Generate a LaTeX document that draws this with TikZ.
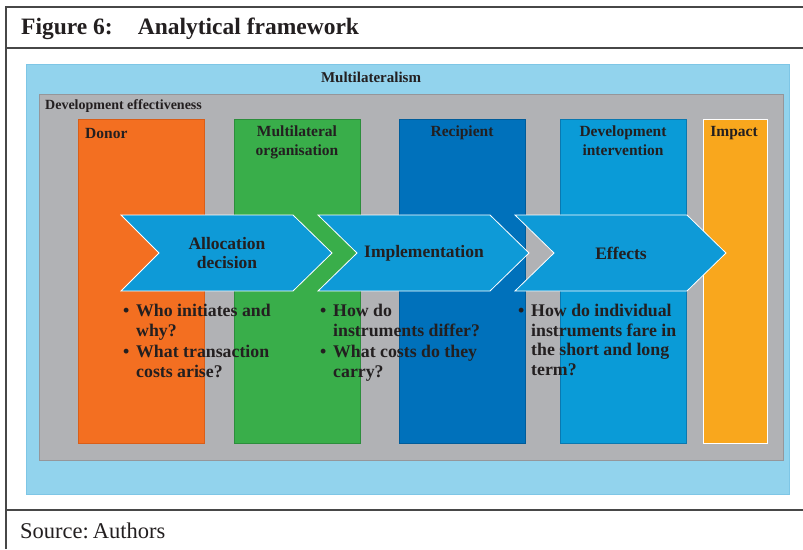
\documentclass[tikz,border=0pt]{standalone}
\usepackage{fontspec}
\setmainfont{Liberation Serif}
\definecolor{skyb}{HTML}{92D3ED}
\definecolor{skybd}{HTML}{7EC6E6}
\definecolor{grayb}{HTML}{B1B2B5}
\definecolor{graybd}{HTML}{95969A}
\definecolor{orangeb}{HTML}{F36F21}
\definecolor{orangebd}{HTML}{D95E18}
\definecolor{greenb}{HTML}{39AE4A}
\definecolor{greenbd}{HTML}{2C8E3C}
\definecolor{recipb}{HTML}{0071BB}
\definecolor{recipbd}{HTML}{005C9A}
\definecolor{devb}{HTML}{0A9BD7}
\definecolor{devbd}{HTML}{0A78B0}
\definecolor{impb}{HTML}{F9A71D}
\definecolor{chevb}{HTML}{0E9AD7}
\definecolor{txt}{HTML}{231F20}
\newcommand{\bul}{\makebox[13pt][l]{\textbullet}}
\newcommand{\ind}{\hspace*{13pt}}
\begin{document}
\begin{tikzpicture}[x=1pt,y=-1pt,
  frameline/.style={draw=black!72, line width=1.2pt},
  area/.style={anchor=north west, inner sep=0},
  box/.style={anchor=north west, inner sep=0, line width=0.8pt, minimum width=126, minimum height=324},
  boxlbl/.style={font=\fontsize{15.5}{19}\selectfont\bfseries, text=txt, align=center, inner sep=0},
  chev/.style={fill=chevb, draw=white, line width=0.8pt},
  chevtxt/.style={font=\fontsize{17.5}{19}\selectfont\bfseries, text=txt, align=center, inner sep=0},
  blist/.style={font=\fontsize{17.8}{19.5}\selectfont\bfseries, text=txt, align=left, inner sep=0, anchor=north west}
]
\useasboundingbox (0,0) rectangle (803,549);
\fill[white] (0,0) rectangle (803,549);

% frame
\draw[frameline] (6,549) -- (6,7) -- (803,7);
\draw[frameline] (6,48) -- (803,48);
\draw[frameline] (6,510) -- (803,510);

\node[anchor=west, inner sep=0, font=\fontsize{23.5}{26}\selectfont\bfseries, text=txt] (title) at (21,29) {Figure 6:\hspace{25pt}Analytical framework};
\node[anchor=west, inner sep=0, font=\fontsize{22.5}{26}\selectfont, text=txt] (source) at (20,531) {Source:\hspace{4pt}Authors};

% areas
\node[area, fill=skyb, draw=skybd, line width=0.8pt, minimum width=763, minimum height=430] (multi) at (26,64) {};
\node[boxlbl, font=\fontsize{15}{18}\selectfont\bfseries] (multilbl) at (371,77) {Multilateralism};
\node[area, fill=grayb, draw=graybd, line width=0.8pt, minimum width=744, minimum height=366] (deveff) at (39,94) {};
\node[anchor=west, inner sep=0, font=\fontsize{14}{16}\selectfont\bfseries, text=txt] (devefflbl) at (45,106) {Development effectiveness};

% columns
\node[box, fill=orangeb, draw=orangebd] (donor) at (78,119) {};
\node[box, fill=greenb, draw=greenbd] (multiorg) at (234,119) {};
\node[box, fill=recipb, draw=recipbd] (recip) at (399,119) {};
\node[box, fill=devb, draw=devbd] (devint) at (560,119) {};
\node[box, fill=impb, draw=white, line width=1.4pt, minimum width=64] (impact) at (703,119) {};

\node[boxlbl, anchor=west] (donorlbl) at (85,133) {Donor};
\node[boxlbl, anchor=north] (multiorglbl) at (297,126) {Multilateral\\organisation};
\node[boxlbl, anchor=north] (reciplbl) at (462,126) {Recipient};
\node[boxlbl, anchor=north] (devintlbl) at (623,126) {Development\\intervention};
\node[boxlbl, anchor=north] (impactlbl) at (734,126) {Impact};

% chevrons
\draw[chev] (121,215) -- (293,215) -- (332,253) -- (293,291) -- (121,291) -- (159,253) -- cycle;
\draw[chev] (318,215) -- (490,215) -- (529,253) -- (490,291) -- (318,291) -- (357,253) -- cycle;
\draw[chev] (515,215) -- (687,215) -- (726,253) -- (687,291) -- (515,291) -- (554,253) -- cycle;
\node[chevtxt] (alloc) at (227,253) {Allocation\\decision};
\node[chevtxt] (impl) at (424,253) {Implementation};
\node[chevtxt] (eff) at (621,253) {Effects};

% bullet lists
\node[blist] (q1) at (123,304) {\bul Who initiates and\\\ind why?\\[2pt]\bul What transaction\\\ind costs arise?};
\node[blist] (q2) at (320,304) {\bul How do\\\ind instruments differ?\\[2pt]\bul What costs do they\\\ind carry?};
\node[blist] (q3) at (518,304) {\bul How do individual\\\ind instruments fare in\\\ind the short and long\\\ind term?};
\end{tikzpicture}
\end{document}
